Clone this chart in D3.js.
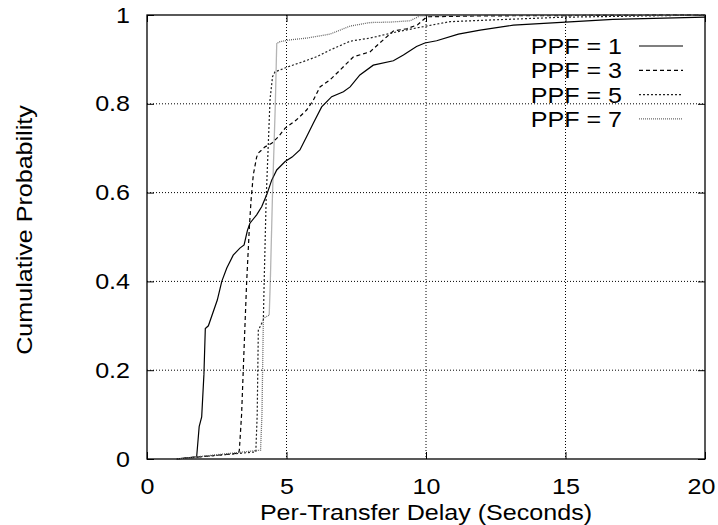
<!DOCTYPE html>
<html>
<head>
<meta charset="utf-8">
<script src="https://cdn.jsdelivr.net/npm/d3@7"></script>
<style>
  html, body { margin: 0; padding: 0; background: #fff; }
  svg text { font-family: "Liberation Sans", Arial, Helvetica, sans-serif; fill: #000; }
</style>
</head>
<body>
<svg id="chart" width="718" height="525"></svg>
<script>
// ---- data ----
const seriesNames = ["PPF = 1", "PPF = 3", "PPF = 5", "PPF = 7"];
const ppf1 = [[1.05,0],[1.78,0.005],[1.87,0.073],[1.96,0.095],[2.04,0.19],[2.09,0.294],[2.2,0.30],[2.52,0.358],[2.68,0.40],[2.86,0.43],[3.09,0.459],[3.33,0.475],[3.48,0.482],[3.6,0.515],[3.69,0.531],[3.93,0.55],[4.11,0.568],[4.29,0.595],[4.47,0.628],[4.65,0.651],[4.95,0.67],[5.2,0.68],[5.48,0.696],[5.72,0.726],[5.96,0.756],[6.26,0.793],[6.62,0.816],[7.04,0.827],[7.28,0.838],[7.63,0.865],[8.11,0.887],[8.83,0.897],[9.19,0.91],[9.66,0.929],[9.96,0.937],[10.38,0.942],[11.16,0.957],[11.94,0.966],[13.13,0.977],[15.0,0.984],[16.7,0.99],[20,0.995]];
const ppf3 = [[1.05,0],[3.28,0.013],[3.31,0.02],[3.39,0.10],[3.48,0.25],[3.57,0.396],[3.67,0.523],[3.73,0.583],[3.81,0.64],[3.93,0.68],[3.99,0.689],[4.23,0.703],[4.47,0.711],[4.71,0.726],[4.95,0.745],[5.36,0.764],[5.72,0.786],[5.96,0.808],[6.2,0.838],[6.56,0.854],[6.92,0.876],[7.4,0.906],[7.99,0.917],[8.47,0.944],[8.83,0.964],[9.31,0.969],[9.7,0.978],[10.03,0.996],[12,0.998],[20,1]];
const ppf5 = [[1.05,0],[3.9,0.016],[3.95,0.1],[3.99,0.29],[4.17,0.313],[4.2,0.40],[4.27,0.584],[4.41,0.81],[4.5,0.861],[4.59,0.872],[5.13,0.885],[5.6,0.895],[6.08,0.906],[6.56,0.921],[7.28,0.941],[7.99,0.948],[8.95,0.962],[10.0,0.975],[10.86,0.985],[12,0.988],[14.9,0.995],[20,1]];
const ppf7 = [[1.05,0],[4.07,0.02],[4.12,0.1],[4.17,0.317],[4.38,0.324],[4.42,0.4],[4.5,0.6],[4.6,0.8],[4.65,0.936],[4.77,0.94],[5.13,0.944],[5.72,0.948],[6.2,0.953],[6.56,0.957],[6.92,0.966],[7.28,0.975],[7.99,0.983],[8.71,0.984],[9.43,0.987],[9.78,0.998],[12,0.999],[20,1]];
const xTicks = [0, 5, 10, 15, 20];
const yTicks = [0, 0.2, 0.4, 0.6, 0.8, 1];
const xTitle = "Per-Transfer Delay (Seconds)";
const yTitle = "Cumulative Probability";

// ---- styles ----
const styles = [
  { stroke: "#000", width: 1.2, dash: null },
  { stroke: "#000", width: 1.2, dash: "4,3" },
  { stroke: "#222", width: 1.2, dash: "2,2" },
  { stroke: "#6a6a6a", width: 1.3, dash: "1,1" }
];
const allSeries = [ppf1, ppf3, ppf5, ppf7];

const svg = d3.select("#chart");
const m = { left: 147, top: 15, right: 13, bottom: 66 };
const W = 718 - m.left - m.right, H = 525 - m.top - m.bottom;
const g = svg.append("g").attr("transform", `translate(${m.left},${m.top})`);

const x = d3.scaleLinear().domain([0, 20]).range([0, W]);
const y = d3.scaleLinear().domain([0, 1]).range([H, 0]);

const fs = 22, stretchK = 1.14;
function stretch(sel) {
  sel.each(function () {
    const L = this.getComputedTextLength();
    if (L > 0) d3.select(this).attr("textLength", L * stretchK).attr("lengthAdjust", "spacingAndGlyphs");
  });
}

// grid
g.append("g").selectAll("line").data(xTicks.filter(t => t > 0 && t < 20)).join("line")
  .attr("x1", d => x(d)).attr("x2", d => x(d)).attr("y1", 0).attr("y2", H)
  .attr("stroke", "#000").attr("stroke-width", 1).attr("stroke-dasharray", "1,2");
g.append("g").selectAll("line").data(yTicks.filter(t => t > 0 && t < 1)).join("line")
  .attr("x1", 0).attr("x2", W).attr("y1", d => y(d)).attr("y2", d => y(d))
  .attr("stroke", "#000").attr("stroke-width", 1).attr("stroke-dasharray", "1,2");

// axes (inward ticks, labels)
const xAxis = g.append("g").attr("transform", `translate(0,${H})`)
  .call(d3.axisBottom(x).tickValues(xTicks).tickFormat(d3.format("d")).tickSize(-7).tickPadding(19));
const yAxis = g.append("g")
  .call(d3.axisLeft(y).tickValues(yTicks).tickFormat(d => d === 0 || d === 1 ? d3.format("d")(d) : d3.format(".1f")(d)).tickSize(-7).tickPadding(17));
const xAxisTop = g.append("g").call(d3.axisTop(x).tickValues(xTicks).tickSize(-7).tickFormat(""));
const yAxisRight = g.append("g").attr("transform", `translate(${W},0)`)
  .call(d3.axisRight(y).tickValues(yTicks).tickSize(-7).tickFormat(""));
[xAxis, yAxis, xAxisTop, yAxisRight].forEach(a => {
  a.select(".domain").remove();
  a.selectAll("line").attr("stroke", "#000").attr("stroke-width", 1);
  a.selectAll("text").attr("font-size", fs).attr("font-family", "Liberation Sans, Arial, sans-serif").attr("fill", "#000");
});
// keep the last x label inside the canvas like the reference
xAxis.selectAll(".tick").filter(d => d === 20).select("text").attr("dx", -4);
stretch(xAxis.selectAll("text"));
stretch(yAxis.selectAll("text"));

// border
g.append("rect").attr("x", 0).attr("y", 0).attr("width", W).attr("height", H)
  .attr("fill", "none").attr("stroke", "#000").attr("stroke-width", 1.3);

// series
const line = d3.line().x(d => x(d[0])).y(d => y(d[1]));
allSeries.forEach((s, i) => {
  g.append("path").datum(s).attr("d", line)
    .attr("fill", "none").attr("stroke", styles[i].stroke).attr("stroke-width", styles[i].width)
    .attr("stroke-dasharray", styles[i].dash);
});

// legend
const lg = g.append("g");
seriesNames.forEach((n, i) => {
  const yy = 31 + i * 24.3;
  lg.append("text").attr("x", 475).attr("y", yy + 8).attr("text-anchor", "end")
    .attr("font-size", fs).text(n);
  lg.append("line").attr("x1", 492).attr("x2", 536).attr("y1", yy).attr("y2", yy)
    .attr("stroke", styles[i].stroke).attr("stroke-width", styles[i].width)
    .attr("stroke-dasharray", styles[i].dash);
});
stretch(lg.selectAll("text"));

// axis titles
const xt = svg.append("text").attr("x", m.left + W / 2).attr("y", 519.5).attr("text-anchor", "middle")
  .attr("font-size", fs).text(xTitle);
const yt = svg.append("text").attr("transform", `translate(32,${m.top + H / 2 - 7}) rotate(-90)`)
  .attr("text-anchor", "middle").attr("font-size", fs).text(yTitle);
stretch(xt);
stretch(yt);
</script>
</body>
</html>
